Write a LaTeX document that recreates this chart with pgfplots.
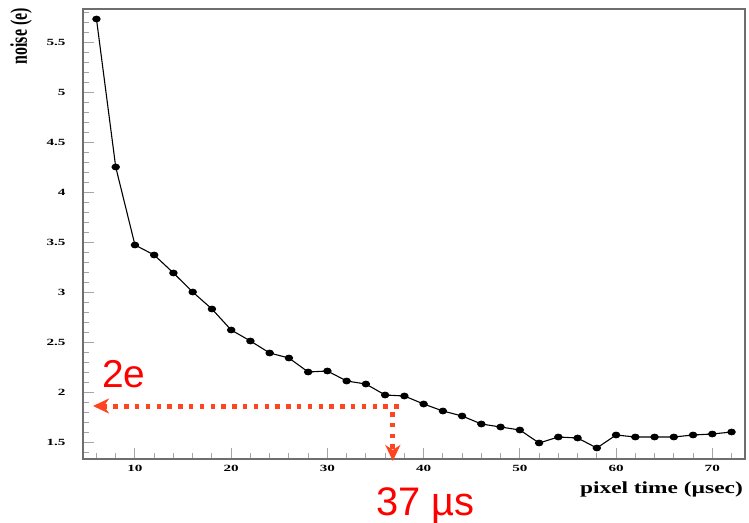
\documentclass[border=0pt]{standalone}
\usepackage{fontspec}
\setmainfont{Liberation Serif}
\newfontfamily\tickfont[FakeStretch=1.6]{Liberation Serif}
\newfontfamily\labfont[FakeStretch=1.38]{Liberation Serif}
\newfontfamily\annfont{Liberation Sans}
\usepackage{pgfplots}
\pgfplotsset{compat=1.18}
\usetikzlibrary{arrows.meta}
\definecolor{arr}{RGB}{255,68,34}
\definecolor{frm}{RGB}{110,110,110}
\definecolor{tck}{RGB}{165,165,165}
\begin{document}
\begin{tikzpicture}
\useasboundingbox (-83bp,-64bp) rectangle (666bp,459bp);
\begin{axis}[
 at={(0,0)}, anchor=south west,
 scale only axis, width=662bp, height=450bp,
 xmin=4.6, xmax=73.4, ymin=1.33, ymax=5.83,
 axis line style={frm, line width=1.4bp},
 tick pos=left, tick align=inside,
 xtick={10,20,...,70}, minor xtick={6,8,...,72},
 ytick={1.5,2,...,5.5}, minor ytick={1.4,1.5,...,5.8},
 major tick length=11bp, minor tick length=6bp,
 every tick/.style={tck, line width=1bp},
 /pgf/number format/assume math mode=true,
 ticklabel style={font=\fontsize{9.5}{9.5}\selectfont\tickfont\bfseries, black},
 xticklabel style={yshift=-3bp},
 yticklabel style={xshift=-14bp},
 clip=false,
]
\addplot[black, line width=1.1bp, mark=*, mark size=2.8bp, mark options={xscale=1.3, fill=black}] coordinates {
(6,5.73) (8,4.25) (10,3.47) (12,3.37) (14,3.19) (16,3.00) (18,2.83) (20,2.62)
(22,2.51) (24,2.39) (26,2.34) (28,2.20) (30,2.21) (32,2.11) (34,2.08) (36,1.97)
(38,1.96) (40,1.88) (42,1.81) (44,1.76) (46,1.68) (48,1.65) (50,1.62) (52,1.49)
(54,1.55) (56,1.54) (58,1.44) (60,1.57) (62,1.55) (64,1.55) (66,1.55) (68,1.57)
(70,1.58) (72,1.60)
};
\draw[arr, line width=5bp, dash pattern=on 4.5bp off 6.3bp, -{Stealth[length=16bp, width=15bp, inset=5bp]}] (axis cs:37.4,1.86) -- (axis cs:5.64,1.86);
\draw[arr, line width=5bp, dash pattern=on 4.5bp off 6.3bp, -{Stealth[length=16bp, width=15bp, inset=5bp]}] (axis cs:36.8,1.80) -- (axis cs:36.8,1.31);
\node[anchor=base west, inner sep=0, text=red, font=\fontsize{39}{39}\selectfont\annfont] at (axis cs:6.57,2.05) {2e};
\node[anchor=base west, inner sep=0, text=red, font=\fontsize{40}{40}\selectfont\annfont] at (axis cs:35.03,0.77) {37 µs};
\node[xshift=-56bp, yshift=1bp, rotate=90, anchor=base east, inner sep=0, font=\fontsize{16}{16}\selectfont\bfseries] at (rel axis cs:0,1) {\scalebox{1}[1.5]{noise (e)}};
\node[xshift=-2bp, yshift=-34bp, anchor=base east, inner sep=0, font=\fontsize{17}{17}\selectfont\labfont\bfseries] at (rel axis cs:1,0) {pixel time (µsec)};
\end{axis}
\end{tikzpicture}
\end{document}
